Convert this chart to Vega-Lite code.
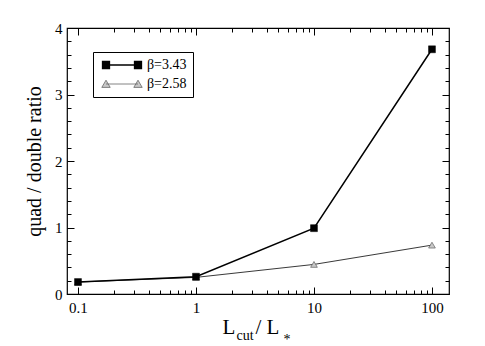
{
  "$schema": "https://vega.github.io/schema/vega-lite/v6.json",
  "width": 382,
  "height": 266,
  "autosize": {"type": "none"},
  "padding": {"left": 67, "top": 28, "right": 36, "bottom": 52},
  "background": "white",
  "data": {"values": [
    {"x": 0.1, "y": 0.18, "series": "β=3.43"},
    {"x": 1, "y": 0.26, "series": "β=3.43"},
    {"x": 10, "y": 0.99, "series": "β=3.43"},
    {"x": 100, "y": 3.68, "series": "β=3.43"},
    {"x": 0.1, "y": 0.18, "series": "β=2.58"},
    {"x": 1, "y": 0.25, "series": "β=2.58"},
    {"x": 10, "y": 0.445, "series": "β=2.58"},
    {"x": 100, "y": 0.735, "series": "β=2.58"}
  ]},
  "resolve": {"axis": {"x": "independent", "y": "independent"}},
  "layer": [
    {
      "transform": [{"filter": "datum.series === 'β=2.58'"}],
      "mark": {"type": "line", "color": "#222", "strokeWidth": 0.9},
      "encoding": {
        "x": {"field": "x", "type": "quantitative", "scale": {"type": "log", "domain": [0.0807, 139.4], "nice": false},
          "axis": {"orient": "top", "offset": -7, "zindex": 1, "values": [0.1, 1, 10, 100], "ticks": true, "tickSize": 7, "tickColor": "black", "tickWidth": 1, "tickOpacity": 1, "domain": false, "grid": false, "labels": false, "title": "/ L", "titleFont": "Liberation Serif", "titleFontWeight": "normal", "titleColor": "black", "titleX": 188, "titleY": 298, "titleAlign": "left", "titleBaseline": "alphabetic", "titleFontSize": 21}},
        "y": {"field": "y", "type": "quantitative", "scale": {"domain": [0, 4], "nice": false},
          "axis": {"orient": "right", "offset": -7, "zindex": 1, "values": [0, 1, 2, 3, 4], "ticks": true, "tickSize": 7, "tickColor": "black", "tickWidth": 1, "tickOpacity": 1, "domain": false, "grid": false, "labels": false, "title": null}}
      }
    },
    {
      "transform": [{"filter": "datum.series === 'β=2.58'"}],
      "mark": {"type": "point", "shape": "triangle-up", "filled": true, "fill": "#c8c8c8", "stroke": "#707070", "strokeWidth": 0.8, "size": 45, "opacity": 1},
      "encoding": {
        "x": {"field": "x", "type": "quantitative", "scale": {"type": "log", "domain": [0.0807, 139.4], "nice": false},
          "axis": {"orient": "top", "offset": -4, "zindex": 1, "values": [0.2,0.3,0.4,0.5,0.6,0.7,0.8,0.9,2,3,4,5,6,7,8,9,20,30,40,50,60,70,80,90], "ticks": true, "tickSize": 4, "tickColor": "black", "tickWidth": 1, "tickOpacity": 1, "domain": false, "grid": false, "labels": false, "title": "*", "titleFont": "Liberation Serif", "titleFontWeight": "normal", "titleColor": "black", "titleX": 216, "titleY": 311, "titleAlign": "left", "titleBaseline": "alphabetic", "titleFontSize": 14}},
        "y": {"field": "y", "type": "quantitative", "scale": {"domain": [0, 4], "nice": false},
          "axis": {"orient": "right", "offset": -4, "zindex": 1, "values": [0.2,0.4,0.6,0.8,1.2,1.4,1.6,1.8,2.2,2.4,2.6,2.8,3.2,3.4,3.6,3.8], "ticks": true, "tickSize": 4, "tickColor": "black", "tickWidth": 1, "tickOpacity": 1, "domain": false, "grid": false, "labels": false, "title": null}}
      }
    },
    {
      "transform": [{"filter": "datum.series === 'β=3.43'"}],
      "mark": {"type": "line", "color": "black", "strokeWidth": 1.5},
      "encoding": {
        "x": {"field": "x", "type": "quantitative", "scale": {"type": "log", "domain": [0.0807, 139.4], "nice": false},
          "axis": {"orient": "bottom", "offset": -7, "zindex": 1, "values": [0.1, 1, 10, 100], "format": "~g", "ticks": true, "tickSize": 7, "tickColor": "black", "tickWidth": 1, "tickOpacity": 1, "domain": false, "grid": false, "labelPadding": 6, "labelFont": "Liberation Serif", "labelFontSize": 15, "labelColor": "black", "title": "L", "titleFont": "Liberation Serif", "titleFontWeight": "normal", "titleColor": "black", "titleX": 155, "titleY": 46, "titleAlign": "left", "titleBaseline": "alphabetic", "titleFontSize": 21}},
        "y": {"field": "y", "type": "quantitative", "scale": {"domain": [0, 4], "nice": false},
          "axis": {"orient": "left", "offset": -7, "zindex": 1, "values": [0, 1, 2, 3, 4], "format": "d", "ticks": true, "tickSize": 7, "tickColor": "black", "tickWidth": 1, "tickOpacity": 1, "domain": false, "grid": false, "labelPadding": 5, "labelFont": "Liberation Serif", "labelFontSize": 15, "labelColor": "black", "title": "quad / double ratio", "titleFont": "Liberation Serif", "titleFontWeight": "normal", "titleColor": "black", "titleX": -34, "titleY": 133, "titleAngle": -90, "titleAlign": "center", "titleBaseline": "alphabetic", "titleFontSize": 20}}
      }
    },
    {
      "transform": [{"filter": "datum.series === 'β=3.43'"}],
      "mark": {"type": "point", "shape": "square", "filled": true, "fill": "black", "stroke": "black", "strokeWidth": 0.5, "size": 48, "opacity": 1},
      "encoding": {
        "x": {"field": "x", "type": "quantitative", "scale": {"type": "log", "domain": [0.0807, 139.4], "nice": false},
          "axis": {"orient": "bottom", "offset": -4, "zindex": 1, "values": [0.2,0.3,0.4,0.5,0.6,0.7,0.8,0.9,2,3,4,5,6,7,8,9,20,30,40,50,60,70,80,90], "ticks": true, "tickSize": 4, "tickColor": "black", "tickWidth": 1, "tickOpacity": 1, "domain": false, "grid": false, "labels": false, "title": "cut", "titleFont": "Liberation Serif", "titleFontWeight": "normal", "titleColor": "black", "titleX": 169, "titleY": 49, "titleAlign": "left", "titleBaseline": "alphabetic", "titleFontSize": 14}},
        "y": {"field": "y", "type": "quantitative", "scale": {"domain": [0, 4], "nice": false},
          "axis": {"orient": "left", "offset": -4, "zindex": 1, "values": [0.2,0.4,0.6,0.8,1.2,1.4,1.6,1.8,2.2,2.4,2.6,2.8,3.2,3.4,3.6,3.8], "ticks": true, "tickSize": 4, "tickColor": "black", "tickWidth": 1, "tickOpacity": 1, "domain": false, "grid": false, "labels": false, "title": null}}
      }
    },
    {
      "transform": [{"filter": "false"}],
      "mark": {"type": "point", "filled": true, "opacity": 1},
      "encoding": {
        "x": {"field": "x", "type": "quantitative", "scale": {"type": "log", "domain": [0.0807, 139.4], "nice": false}, "axis": null},
        "y": {"field": "y", "type": "quantitative", "scale": {"domain": [0, 4], "nice": false}, "axis": null},
        "shape": {"field": "series", "type": "nominal", "scale": {"domain": ["β=3.43", "β=2.58"], "range": ["M-4,0L4,0M-4.85,-0.85h1.7v1.7h-1.7zM3.15,-0.85h1.7v1.7h-1.7z", "M-4,0L4,0M-4,-0.95L-2.95,0.85L-5.05,0.85zM4,-0.95L5.05,0.85L2.95,0.85z"]},
          "legend": {"orient": "none", "legendX": 26, "legendY": 24, "title": null, "strokeColor": "black", "padding": 6, "fillColor": "white", "labelFont": "Liberation Serif", "labelFontSize": 14, "labelColor": "black", "symbolSize": 64, "symbolOffset": 16, "labelOffset": 18, "rowPadding": 5}},
        "fill": {"field": "series", "type": "nominal", "scale": {"domain": ["β=3.43", "β=2.58"], "range": ["black", "#c8c8c8"]}},
        "stroke": {"field": "series", "type": "nominal", "scale": {"domain": ["β=3.43", "β=2.58"], "range": ["black", "#666666"]}},
        "strokeWidth": {"field": "series", "type": "nominal", "scale": {"domain": ["β=3.43", "β=2.58"], "range": [1.5, 0.8]}}
      }
    }
  ],
  "config": {
    "view": {"stroke": "black", "strokeWidth": 1.2},
    "axis": {
      "grid": false, "domain": false, "ticks": true,
      "tickColor": "black", "tickWidth": 1,
      "labelFont": "Liberation Serif", "labelFontSize": 15, "labelColor": "black",
      "titleFont": "Liberation Serif", "titleFontWeight": "normal", "titleColor": "black"
    }
  }
}
